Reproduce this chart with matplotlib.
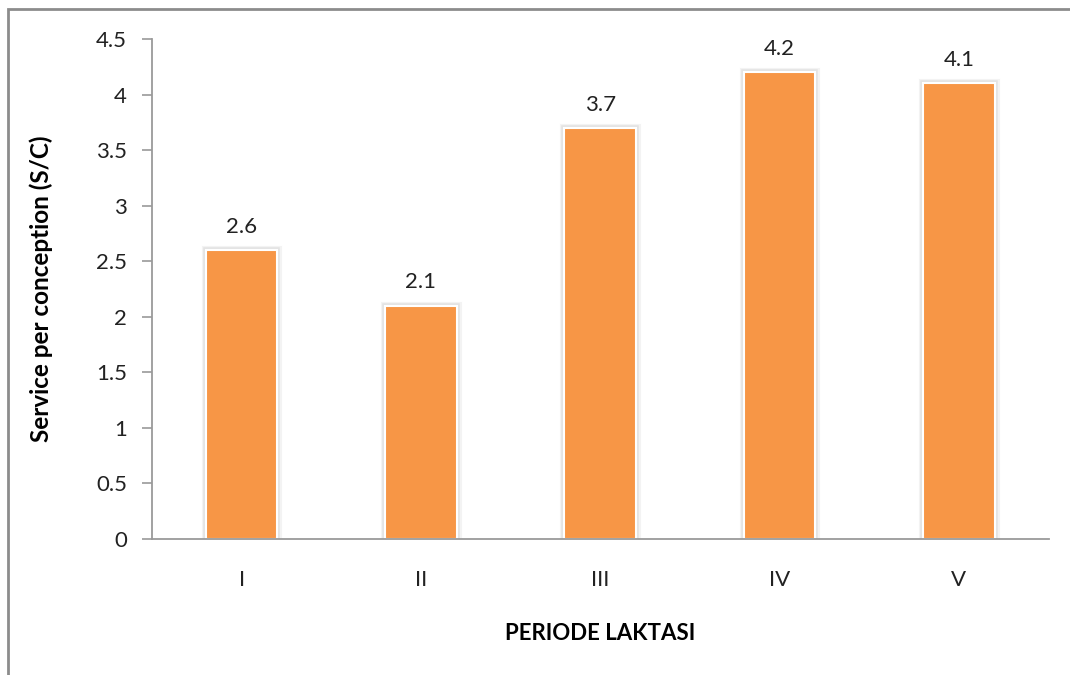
import matplotlib.pyplot as plt
import matplotlib.patheffects as pe
from matplotlib.patches import Rectangle

periode = ['I', 'II', 'III', 'IV', 'V']
sc = [2.6, 2.1, 3.7, 4.2, 4.1]
yticks = [0, 0.5, 1, 1.5, 2, 2.5, 3, 3.5, 4, 4.5]
ylabels = ['0', '0.5', '1', '1.5', '2', '2.5', '3', '3.5', '4', '4.5']

plt.rcParams['font.family'] = ['Lato', 'DejaVu Sans']

fig = plt.figure(figsize=(10.7, 6.75), dpi=100)
ax = fig.add_axes([0.142, 0.2015, 0.838, 0.7407])

x = range(len(periode))
bars = ax.bar(x, sc, width=0.4, color='#F79646', edgecolor='white', linewidth=1.5, zorder=3)
# soft grey halo around each bar
for b in bars:
    b.set_path_effects([pe.Stroke(linewidth=6.5, foreground='#f3f3f3'),
                        pe.Stroke(linewidth=4, foreground='#e3e3e3'),
                        pe.Normal()])

for xi, v in zip(x, sc):
    ax.text(xi, v + 0.12, f'{v}', ha='center', va='bottom', fontsize=16, color='#222222')

ax.set_xlim(-0.5, 4.5)
ax.set_ylim(0, 4.5)
ax.set_yticks(yticks)
ax.set_yticklabels(ylabels)
ax.set_xticks(list(x))
ax.set_xticklabels(periode)
ax.tick_params(axis='y', length=7, width=1.2, color='#9a9a9a', labelsize=16, labelcolor='#222222', pad=11)
ax.tick_params(axis='x', length=0, labelsize=16, labelcolor='#222222', pad=22)

for s in ['top', 'right']:
    ax.spines[s].set_visible(False)
for s in ['left', 'bottom']:
    ax.spines[s].set_color('#9a9a9a')
    ax.spines[s].set_linewidth(1.3)
    ax.spines[s].set_zorder(4)

ax.set_ylabel('Service per conception (S/C)', fontsize=17.5, fontweight='bold', labelpad=31)
ax.set_xlabel('PERIODE LAKTASI', fontsize=16, fontweight='bold', labelpad=24)

# outer chart frame
fig.patches.append(Rectangle((8 / 1070, -0.1), 1.2, 1 - 9 / 675 + 0.1, transform=fig.transFigure,
                             fill=False, edgecolor='#8c8c8c', linewidth=2))

fig.savefig('out.png', dpi=100)
